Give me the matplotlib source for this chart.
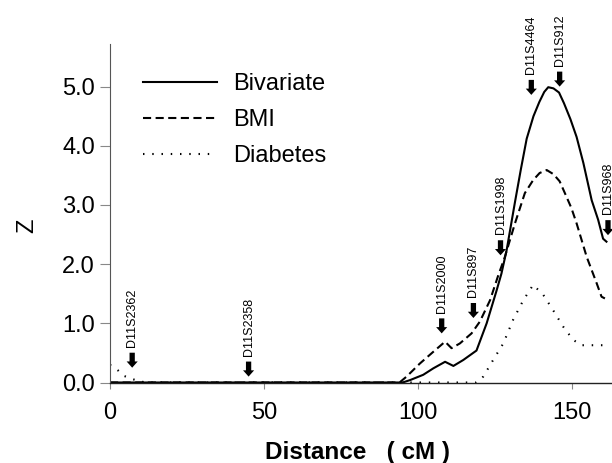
import matplotlib
matplotlib.use("Agg")
import matplotlib.pyplot as plt

plt.rcParams['font.family'] = ['Liberation Sans', 'DejaVu Sans']

# ---- data ----
biv_x = [0, 95, 97.4, 101.7, 105, 108.8, 111.5, 114.7, 119, 122.3, 125.5, 127.1, 128.8,
         131.5, 133.4, 135.3, 137.5, 139.4, 141, 142.3, 144, 145.8, 147.4, 149.5, 151.5,
         153.7, 156.4, 158.5, 160.1, 161.2]
biv_z = [0, 0, 0.04, 0.13, 0.24, 0.35, 0.28, 0.38, 0.54, 1.0, 1.55, 1.84, 2.24,
         3.05, 3.6, 4.12, 4.5, 4.74, 4.91, 4.99, 4.97, 4.9, 4.72, 4.45, 4.15,
         3.71, 3.08, 2.75, 2.43, 2.38]

bmi_x = [0, 94, 96.3, 100.6, 105, 108.8, 110.9, 113.6, 117.4, 120.1, 123.4, 126, 128.2,
         131.5, 134.7, 137.4, 139.5, 141.8, 144, 146, 147.7, 149.8, 151.5, 154.8, 158,
         159.6, 160.7]
bmi_z = [0, 0, 0.1, 0.32, 0.52, 0.69, 0.58, 0.66, 0.83, 1.03, 1.39, 1.8, 2.12,
         2.69, 3.2, 3.42, 3.54, 3.59, 3.52, 3.4, 3.2, 2.95, 2.69, 2.12, 1.68,
         1.45, 1.42]

dia_x = [0, 0.5, 2.7, 4.6, 7.2, 9.5, 12, 119, 121.2, 124.4, 127.7, 130.9, 134.2, 137.4,
         140.7, 143.9, 147.2, 150.4, 153.1, 156, 160.7]
dia_z = [0.3, 0.28, 0.2, 0.11, 0.06, 0.02, 0, 0, 0.1, 0.38, 0.66, 1.06, 1.39, 1.65,
         1.48, 1.22, 0.94, 0.72, 0.63, 0.63, 0.63]

marker_names = ['D11S2362', 'D11S2358', 'D11S2000', 'D11S897', 'D11S1998',
                'D11S4464', 'D11S912', 'D11S968']
marker_pos = [7.2, 45, 107.7, 118, 126.8, 136.8, 146, 161.7]
marker_tip = [0.25, 0.1, 0.83, 1.09, 2.15, 4.86, 5.0, 2.49]

series_labels = ['Bivariate', 'BMI', 'Diabetes']
x_ticks = [0, 50, 100, 150]
y_ticks = [0.0, 1.0, 2.0, 3.0, 4.0, 5.0]

# ---- figure ----
W, H = 612, 463
fig = plt.figure(figsize=(W / 100, H / 100), dpi=100)
ax = fig.add_axes([110 / W, 1 - 382.5 / H, 502 / W, 338.5 / H])

dash_style = (0, (3.9, 2.15))
dot_style = (0, (0.7, 3.74))
l1, = ax.plot(biv_x, biv_z, color='black', lw=1.5, linestyle='-')
l2, = ax.plot(bmi_x, bmi_z, color='black', lw=1.5, linestyle=dash_style)
l3, = ax.plot(dia_x, dia_z, color='black', lw=1.5, linestyle=dot_style)

ax.set_xlim(0, 163)
ax.set_ylim(0, 5.72)

for s in ['top', 'right']:
    ax.spines[s].set_visible(False)
ax.spines['left'].set_color('#555555')
ax.spines['left'].set_linewidth(0.8)
ax.spines['bottom'].set_color('#222222')
ax.spines['bottom'].set_linewidth(1.0)

ax.set_xticks(x_ticks)
ax.set_yticks(y_ticks)
ax.set_yticklabels([f'{v:.1f}' for v in y_ticks])
ax.tick_params(axis='y', length=7.2, width=0.8, color='#888888', pad=3.6, labelsize=17)
ax.tick_params(axis='x', length=4.3, width=0.8, color='#888888', pad=10, labelsize=17)

ax.set_xlabel('Distance   ( cM )', fontsize=17.5, fontweight='bold')
ax.xaxis.set_label_coords(0.493, -0.172)
ax.set_ylabel('Z', fontsize=17)
ax.yaxis.set_label_coords(-0.142, 0.464)

leg = ax.legend([l1, l2, l3], series_labels, loc='upper left',
                bbox_to_anchor=(0.066, 0.914), frameon=False, fontsize=17,
                handlelength=3.13, handletextpad=0.68, labelspacing=0.59,
                borderpad=0, borderaxespad=0)

for name, xp, zt in zip(marker_names, marker_pos, marker_tip):
    ax.annotate('', xy=(xp, zt), xytext=(0, 10.8), textcoords='offset points',
                arrowprops=dict(arrowstyle='simple,head_length=0.45,head_width=0.8,tail_width=0.38',
                                fc='black', ec='none', shrinkA=0, shrinkB=0,
                                mutation_scale=10))
    ax.annotate(name, xy=(xp, zt), xytext=(0, 15), textcoords='offset points',
                rotation=90, ha='center', va='bottom', fontsize=9)

fig.savefig('out.png', dpi=100)
